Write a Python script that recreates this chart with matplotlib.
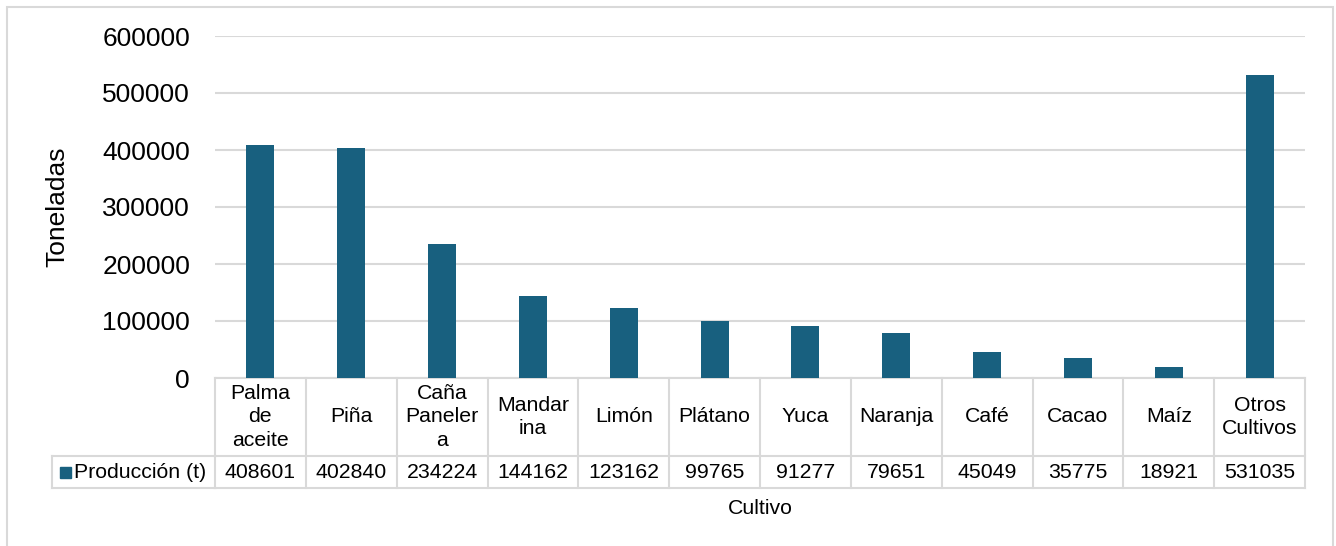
import matplotlib
matplotlib.use("Agg")
import matplotlib.pyplot as plt
from matplotlib.patches import Rectangle
from matplotlib.transforms import blended_transform_factory

plt.rcParams["font.family"] = ["Liberation Sans", "DejaVu Sans"]

# Producción por cultivo (toneladas)
cultivos = ["Palma\nde\naceite", "Piña", "Caña\nPaneler\na", "Mandar\nina", "Limón",
            "Plátano", "Yuca", "Naranja", "Café", "Cacao", "Maíz", "Otros\nCultivos"]
produccion = [408601, 402840, 234224, 144162, 123162, 99765, 91277, 79651,
              45049, 35775, 18921, 531035]
serie = "Producción (t)"
yticks = [0, 100000, 200000, 300000, 400000, 500000, 600000]

BAR = "#18607f"
GRID = "#d9d9d9"
W, H = 1336, 546
FS_TICK = 19
FS_TABLE = 15.3

fig = plt.figure(figsize=(W / 100, H / 100), dpi=100)
fig.patch.set_facecolor("white")

# plot area in pixel terms, converted to figure fractions
left, right, top, bottom = 215, 1305, 36, 378
ax = fig.add_axes([left / W, 1 - bottom / H, (right - left) / W, (bottom - top) / H])

n = len(cultivos)
x = list(range(n))
ax.bar(x, produccion, width=0.31, color=BAR, zorder=3)
ax.set_xlim(-0.5, n - 0.5)
ax.set_ylim(0, 600000)
ax.set_yticks(yticks)
ax.set_yticklabels([str(v) for v in yticks], fontsize=FS_TICK)
ax.tick_params(axis="y", length=0, pad=18)
ax.set_xticks([])
ax.grid(axis="y", color=GRID, linewidth=1.5, zorder=0)
for s in ax.spines.values():
    s.set_visible(False)


def fy(py):
    return 1 - py / H


fig.text(57 / W, fy(207), "Toneladas", rotation=90, ha="center", va="center",
         fontsize=FS_TICK)

# data table under the axis: x in data units, y in pixels from the figure top
trans = blended_transform_factory(ax.transData, fig.transFigure)
row_top, row_mid, row_bot = 378, 456, 488
lw = 1.5
line_kw = dict(color=GRID, linewidth=lw, transform=trans, clip_on=False, zorder=1)

for yy in (row_top, row_mid, row_bot):
    ax.plot([-0.5, n - 0.5], [fy(yy), fy(yy)], **line_kw)
for i in range(n + 1):
    xb = i - 0.5
    ax.plot([xb, xb], [fy(row_top), fy(row_bot)], **line_kw)

for i, (cat, val) in enumerate(zip(cultivos, produccion)):
    ax.text(i, fy((row_top + row_mid) / 2), cat, transform=trans, ha="center",
            va="center", fontsize=FS_TABLE, linespacing=1.3)
    ax.text(i, fy((row_mid + row_bot) / 2), str(val), transform=trans,
            ha="center", va="center", fontsize=FS_TABLE)

# legend cell to the left of the value row
fig_line = dict(color=GRID, linewidth=lw, transform=fig.transFigure, zorder=1)
lx0 = 52 / W
fig.add_artist(plt.Line2D([lx0, left / W], [fy(row_mid), fy(row_mid)], **fig_line))
fig.add_artist(plt.Line2D([lx0, left / W], [fy(row_bot), fy(row_bot)], **fig_line))
fig.add_artist(plt.Line2D([lx0, lx0], [fy(row_mid), fy(row_bot)], **fig_line))
fig.add_artist(Rectangle((60 / W, fy(478)), 11 / W, 11 / H, color=BAR,
                         transform=fig.transFigure))
fig.text(74 / W, fy((row_mid + row_bot) / 2), serie, ha="left", va="center",
         fontsize=FS_TABLE)

fig.text(760 / W, fy(508), "Cultivo", ha="center", va="center", fontsize=FS_TABLE)

# outer chart border
fig.add_artist(Rectangle((7 / W, -0.05), (1333 - 7) / W, fy(7) + 0.05,
                         fill=False, edgecolor=GRID, linewidth=1.5,
                         transform=fig.transFigure))

fig.savefig("out.png", dpi=100, facecolor="white")
